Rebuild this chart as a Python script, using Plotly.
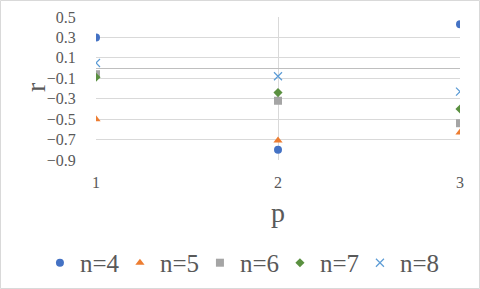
import plotly.graph_objects as go

p_values = [1, 2, 3]
series_names = ["n=4", "n=5", "n=6", "n=7", "n=8"]
r_n4 = [0.30, -0.80, 0.43]
r_n5 = [-0.50, -0.71, -0.63]
r_n6 = [-0.06, -0.32, -0.54]
r_n7 = [-0.09, -0.24, -0.40]
r_n8 = [0.05, -0.08, -0.23]
y_tick_vals = [0.5, 0.3, 0.1, -0.1, -0.3, -0.5, -0.7, -0.9]
x_tick_vals = [1, 2, 3]

series_values = [r_n4, r_n5, r_n6, r_n7, r_n8]
colors = ["#4472C4", "#ED7D31", "#A5A5A5", "#5A9040", "#5B9BD5"]
symbols = ["circle", "triangle-up", "square", "diamond", "x-thin-open"]
sizes = [8, 8, 8, 7, 8]

FONT = "Times New Roman"
TXT = "#595959"

fig = go.Figure()
for name, vals, c, s, sz in zip(series_names, series_values, colors, symbols, sizes):
    marker = dict(color=c, symbol=s, size=sz)
    if s == "x-thin-open":
        marker["line"] = dict(color=c, width=1.2)
    fig.add_trace(go.Scatter(x=p_values, y=vals, mode="markers", name=name, marker=marker))

fig.update_layout(
    width=480, height=289,
    margin=dict(l=96, r=20, t=17, b=129, autoexpand=False),
    paper_bgcolor="white", plot_bgcolor="white",
    font=dict(family=FONT, color=TXT),
    showlegend=True,
    legend=dict(orientation="h", x=-0.154, xanchor="left", y=-0.72, yanchor="middle",
                font=dict(size=25, family=FONT, color=TXT), itemwidth=30,
                entrywidth=35, entrywidthmode="pixels", tracegroupgap=0),
    xaxis=dict(range=[1, 3], tickvals=x_tick_vals, showgrid=True, gridcolor="#D9D9D9",
               zeroline=False, showline=False, ticks="outside", ticklen=8,
               tickcolor="rgba(0,0,0,0)", tickfont=dict(size=16, family=FONT, color=TXT),
               title=dict(text="p", font=dict(size=28, family=FONT, color=TXT), standoff=12)),
    yaxis=dict(range=[-0.9, 0.5], tickvals=y_tick_vals, tickformat=".1f",
               showgrid=True, gridcolor="#D9D9D9",
               zeroline=True, zerolinecolor="#BFBFBF", zerolinewidth=1.3,
               showline=False, ticks="outside", ticklen=16, tickcolor="rgba(0,0,0,0)",
               tickfont=dict(size=16, family=FONT, color=TXT)),
    annotations=[dict(text="r", xref="paper", yref="paper", x=(35 - 96) / 364, y=0.51,
                      xanchor="center", yanchor="middle", showarrow=False, textangle=-90,
                      font=dict(size=28, family=FONT, color=TXT))],
    shapes=[dict(type="rect", xref="paper", yref="paper",
                 x0=-95.5/364, x1=1+19.5/364, y0=-128.5/143, y1=1+16.5/143,
                 line=dict(color="#D9D9D9", width=1), fillcolor="rgba(0,0,0,0)", layer="below")],
)

fig.write_html("out.html", config={"displayModeBar": False},
               post_script="document.body.style.margin='0';document.body.style.overflow='hidden';")
